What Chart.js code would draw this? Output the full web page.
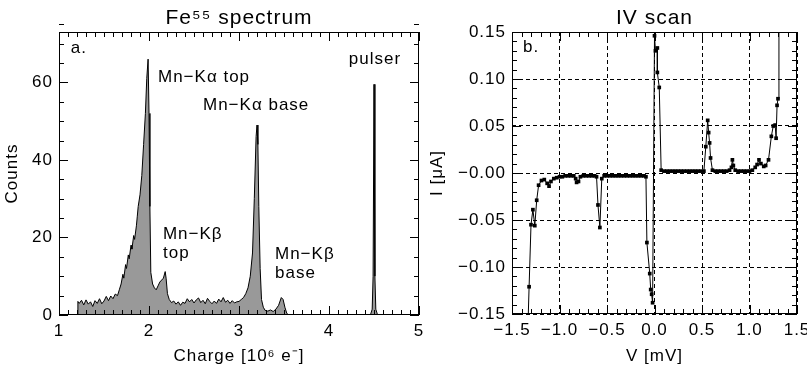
<!DOCTYPE html>
<html>
<head>
<meta charset="utf-8">
<script src="https://cdn.jsdelivr.net/npm/chart.js@4.4.1/dist/chart.umd.min.js"></script>
<style>
  html, body { margin: 0; padding: 0; background: #fff; }
  #wrap { position: relative; width: 807px; height: 370px; overflow: hidden; }
  #specBox { position: absolute; left: 0; top: 0; width: 425px; height: 370px; }
  #ivBox { position: absolute; left: 425px; top: 0; width: 382px; height: 370px; }
</style>
</head>
<body>
<div id="wrap">
  <div id="specBox"><canvas id="specChart" width="425" height="370"></canvas></div>
  <div id="ivBox"><canvas id="ivChart" width="382" height="370"></canvas></div>
</div>
<script>
// ---- panel a: Fe55 spectrum (charge in 10^6 e-, counts) ----
var specCharge = [
  1.00, 1.20, 1.21, 1.225, 1.25, 1.275, 1.30, 1.325, 1.35, 1.375, 1.40, 1.425, 1.45, 1.475,
  1.50, 1.525, 1.55, 1.575, 1.60, 1.625, 1.65, 1.67, 1.69, 1.71, 1.72, 1.74, 1.75, 1.77,
  1.78, 1.80, 1.81, 1.83, 1.84, 1.86, 1.87, 1.88, 1.90, 1.92, 1.94, 1.96, 1.975, 1.99,
  2.00, 2.01, 2.02, 2.04, 2.06, 2.08, 2.10, 2.12, 2.14, 2.16, 2.18, 2.19, 2.205, 2.225,
  2.25, 2.275, 2.30, 2.325, 2.35, 2.375, 2.40, 2.425, 2.45, 2.475, 2.50, 2.525, 2.55, 2.575,
  2.60, 2.625, 2.65, 2.675, 2.70, 2.725, 2.75, 2.775, 2.80, 2.825, 2.85, 2.875, 2.90, 2.925,
  2.95, 2.975, 3.00, 3.025, 3.05, 3.075, 3.10, 3.125, 3.15, 3.17, 3.19, 3.20, 3.21, 3.22,
  3.235, 3.25, 3.27, 3.29, 3.32, 3.35, 3.38, 3.41, 3.44, 3.47, 3.49, 3.51, 3.53, 3.55,
  4.46, 4.48, 4.49, 4.50, 4.51, 4.52, 4.54, 5.00
];
var specCounts = [
  0, 0, 3.5, 3.0, 3.8, 2.6, 3.9, 2.8, 3.4, 2.2, 3.7, 3.0, 4.2, 2.9,
  3.6, 4.8, 3.7, 4.9, 4.2, 5.4, 5.0, 6.5, 8.0, 10.5, 9.5, 13.0, 12.0, 15.5,
  14.5, 18.0, 17.0, 20.5, 19.5, 23.0, 25.5, 28.0, 31.0, 36.0, 44.0, 52.0, 61.0, 66.0,
  52.0, 28.0, 11.0, 8.0, 7.0, 6.5, 7.5, 8.5, 9.0, 9.5, 11.2, 9.5, 5.5, 4.0,
  3.2, 3.6, 2.8, 3.4, 2.5, 3.3, 3.0, 4.2, 3.4, 4.0, 3.1, 3.9, 4.4, 3.2,
  3.8, 2.9, 4.3, 3.5, 2.9, 3.6, 3.0, 4.1, 3.4, 4.5, 3.3, 3.8, 3.0, 3.7,
  3.1, 3.4, 3.5, 4.0, 4.5, 5.5, 7.0, 10.0, 16.0, 30.0, 46.0, 49.0, 44.0, 28.0,
  12.0, 4.0, 2.0, 1.2, 1.0, 1.3, 0.9, 1.5, 2.5, 4.5, 4.0, 2.0, 0.5, 0,
  0, 1.5, 10.0, 59.5, 10.0, 1.5, 0, 0
];
var specXTicks = [1, 2, 3, 4, 5];
var specXLabels = ['1', '2', '3', '4', '5'];
var specYTicks = [0, 20, 40, 60];
var specYLabels = ['0', '20', '40', '60'];
var specNoteText = ['a.', 'Mn\u2212K\u03b1 top', 'Mn\u2212K\u03b1 base', 'pulser', 'Mn\u2212K\u03b2', 'top', 'Mn\u2212K\u03b2', 'base'];
var specNoteX = [1.13, 2.10, 2.60, 4.22, 2.155, 2.155, 3.40, 3.40];
var specNoteY = [68.9, 61.2, 54.2, 66.0, 20.9, 16.0, 15.7, 10.8];

// ---- panel b: IV scan (V in mV, I in uA) ----
var ivV = [
  -1.34, -1.32, -1.30, -1.28, -1.26, -1.24, -1.22, -1.19, -1.16, -1.13, -1.11, -1.09, -1.06, -1.03,
  -1.00, -0.97, -0.94, -0.91, -0.88, -0.85, -0.83, -0.82, -0.80, -0.78, -0.75, -0.72, -0.69, -0.66,
  -0.63, -0.61, -0.595, -0.575, -0.555, -0.53, -0.50, -0.47, -0.44, -0.41, -0.38, -0.35, -0.32, -0.29,
  -0.26, -0.23, -0.20, -0.17, -0.14, -0.11, -0.09, -0.08, -0.05, -0.04, -0.03, -0.02,
  0.00, 0.01, 0.03, 0.03, 0.05, 0.07, 0.10, 0.13, 0.16, 0.19, 0.22, 0.25, 0.28, 0.31, 0.34,
  0.37, 0.40, 0.43, 0.46, 0.49, 0.52, 0.54, 0.56, 0.57, 0.58, 0.59, 0.61, 0.64, 0.67, 0.70,
  0.73, 0.76, 0.79, 0.81, 0.82, 0.83, 0.85, 0.88, 0.91, 0.94, 0.97, 1.00, 1.03, 1.06, 1.08,
  1.10, 1.12, 1.15, 1.17, 1.20, 1.23, 1.25, 1.27, 1.28, 1.29, 1.30, 1.31
];
var ivI = [
  -0.190, -0.121, -0.055, -0.039, -0.056, -0.029, -0.013, -0.008, -0.007, -0.011, -0.014, -0.009, -0.006, -0.005,
  -0.004, -0.004, -0.003, -0.003, -0.003, -0.003, -0.006, -0.010, -0.009, -0.004, -0.003, -0.003, -0.003, -0.003,
  -0.003, -0.004, -0.034, -0.058, -0.006, -0.003, -0.003, -0.003, -0.003, -0.003, -0.003, -0.003, -0.003, -0.003,
  -0.003, -0.003, -0.003, -0.003, -0.003, -0.003, -0.004, -0.074, -0.107, -0.124, -0.129, -0.138,
  0.146, 0.130, 0.133, 0.107, 0.091, 0.003, 0.002, 0.002, 0.002, 0.002, 0.002, 0.002, 0.002, 0.002, 0.002,
  0.002, 0.002, 0.002, 0.002, 0.002, 0.002, 0.028, 0.056, 0.043, 0.032, 0.016, 0.003, 0.002, 0.002, 0.002,
  0.002, 0.002, 0.003, 0.006, 0.014, 0.008, 0.003, 0.002, 0.002, 0.002, 0.002, 0.002, 0.003, 0.006, 0.009,
  0.014, 0.010, 0.007, 0.008, 0.014, 0.039, 0.050, 0.051, 0.037, 0.072, 0.079, 0.152
];
var ivXTicks = [-1.5, -1.0, -0.5, 0.0, 0.5, 1.0, 1.5];
var ivXLabels = ['\u22121.5', '\u22121.0', '\u22120.5', '0.0', '0.5', '1.0', '1.5'];
var ivYTicks = [-0.15, -0.10, -0.05, 0.00, 0.05, 0.10, 0.15];
var ivYLabels = ['\u22120.15', '\u22120.10', '\u22120.05', '\u22120.00', '0.05', '0.10', '0.15'];
var ivNoteText = ['b.'];
var ivNoteX = [-1.385];
var ivNoteY = [0.134];

var FONT = "'Liberation Sans', Arial, Helvetica, sans-serif";

// find label of a major tick, '' for minor ticks
function majorLabel(value, ticks, labels) {
  for (var i = 0; i < ticks.length; i++) {
    if (Math.abs(value - ticks[i]) < 1e-6) return labels[i];
  }
  return '';
}
function isMajor(value, ticks) {
  for (var i = 0; i < ticks.length; i++) {
    if (Math.abs(value - ticks[i]) < 1e-6) return true;
  }
  return false;
}

// IDL-style frame with inward ticks on all four sides, heading and notes
function makeFrame(cfg) {
  return {
    id: 'frame',
    beforeDraw: function (chart) {
      chart.ctx.letterSpacing = '1px';
    },
    afterDraw: function (chart) {
      var ctx = chart.ctx, a = chart.chartArea;
      var xs = chart.scales.x, ys = chart.scales.y;
      ctx.save();
      ctx.setLineDash([]);
      ctx.strokeStyle = '#000';
      ctx.lineWidth = 1;
      ctx.strokeRect(a.left + 0.5, a.top + 0.5, a.right - a.left - 1, a.bottom - a.top - 1);

      // minor and major tick marks pointing into the plot
      var nx = Math.round((xs.max - xs.min) / cfg.xStep);
      for (var k = 0; k <= nx; k++) {
        var v = xs.min + k * cfg.xStep;
        var px = Math.round(xs.getPixelForValue(v)) + 0.5;
        var len = isMajor(v, cfg.xMajor) ? 9 : 5;
        ctx.beginPath();
        ctx.moveTo(px, a.bottom); ctx.lineTo(px, a.bottom - len);
        ctx.moveTo(px, a.top); ctx.lineTo(px, a.top + len);
        ctx.stroke();
      }
      var ny = Math.round((ys.max - ys.min) / cfg.yStep);
      for (var j = 0; j <= ny; j++) {
        var w = ys.min + j * cfg.yStep;
        var py = Math.round(ys.getPixelForValue(w)) + 0.5;
        var len2 = isMajor(w, cfg.yMajor) ? 9 : 5;
        ctx.beginPath();
        ctx.moveTo(a.left, py); ctx.lineTo(a.left + len2, py);
        ctx.moveTo(a.right, py); ctx.lineTo(a.right - len2, py);
        ctx.stroke();
      }

      // notes placed in data coordinates
      ctx.fillStyle = '#000';
      ctx.font = '17px ' + FONT;
      ctx.textAlign = 'left';
      ctx.textBaseline = 'middle';
      for (var i = 0; i < cfg.noteText.length; i++) {
        ctx.fillText(cfg.noteText[i], xs.getPixelForValue(cfg.noteX[i]), ys.getPixelForValue(cfg.noteY[i]));
      }

      // heading over the plot
      ctx.font = '21px ' + FONT;
      ctx.textAlign = 'center';
      ctx.textBaseline = 'alphabetic';
      ctx.fillText(cfg.heading, (a.left + a.right) / 2, 24);
      ctx.restore();
    }
  };
}

function fixWidth(w) {
  return function (scale) { scale.width = w; scale.paddingTop = 0; scale.paddingBottom = 0; };
}
function fixHeight(h) {
  return function (scale) { scale.height = h; scale.paddingLeft = 0; scale.paddingRight = 0; };
}

// Spectrum chart
new Chart(document.getElementById('specChart').getContext('2d'), {
  type: 'line',
  data: {
    datasets: [{
      data: specCharge.map(function (c, i) { return { x: c, y: specCounts[i] }; }),
      borderColor: '#000',
      borderWidth: 1,
      backgroundColor: '#999999',
      fill: 'origin',
      pointRadius: 0,
      tension: 0
    }]
  },
  options: {
    responsive: false,
    animation: false,
    layout: { padding: { top: 32, right: 6, left: 0, bottom: 0 } },
    plugins: { legend: { display: false }, tooltip: { enabled: false } },
    scales: {
      x: {
        type: 'linear', min: 1, max: 5,
        afterFit: fixHeight(55),
        border: { display: false },
        grid: { display: false, drawTicks: false },
        ticks: {
          stepSize: 0.1, autoSkip: false, maxRotation: 0, padding: 6, color: '#000',
          font: { size: 17, family: FONT },
          callback: function (v) { return majorLabel(v, specXTicks, specXLabels); }
        },
        title: { display: true, text: 'Charge [10\u2076 e\u207b]', color: '#000',
                 font: { size: 17, family: FONT }, padding: { top: 0, bottom: 3 } }
      },
      y: {
        type: 'linear', min: 0, max: 73,
        afterFit: fixWidth(59),
        border: { display: false },
        grid: { display: false, drawTicks: false },
        ticks: {
          stepSize: 5, autoSkip: false, padding: 6, color: '#000',
          font: { size: 17, family: FONT },
          callback: function (v) { return majorLabel(v, specYTicks, specYLabels); }
        },
        title: { display: true, text: 'Counts', color: '#000',
                 font: { size: 17, family: FONT }, padding: { top: 2, bottom: 0 } }
      }
    }
  },
  plugins: [makeFrame({
    xMajor: specXTicks, yMajor: specYTicks, xStep: 0.1, yStep: 5,
    heading: 'Fe\u2075\u2075 spectrum',
    noteText: specNoteText, noteX: specNoteX, noteY: specNoteY
  })]
});

// IV scan chart
new Chart(document.getElementById('ivChart').getContext('2d'), {
  type: 'line',
  data: {
    datasets: [{
      data: ivV.map(function (v, i) { return { x: v, y: ivI[i] }; }),
      borderColor: '#000',
      borderWidth: 1,
      backgroundColor: '#000',
      pointStyle: 'rect',
      pointRadius: 2.6,
      pointBorderWidth: 0,
      fill: false,
      tension: 0
    }]
  },
  options: {
    responsive: false,
    animation: false,
    layout: { padding: { top: 32, right: 10, left: 0, bottom: 0 } },
    plugins: { legend: { display: false }, tooltip: { enabled: false } },
    scales: {
      x: {
        type: 'linear', min: -1.5, max: 1.5,
        afterFit: fixHeight(56),
        border: { display: false, dash: [4, 3] },
        grid: {
          drawTicks: false,
          color: function (c) { return isMajor(c.tick.value, ivXTicks) ? '#000' : 'rgba(0,0,0,0)'; }
        },
        ticks: {
          stepSize: 0.1, autoSkip: false, maxRotation: 0, padding: 6, color: '#000',
          font: { size: 17, family: FONT },
          callback: function (v) { return majorLabel(v, ivXTicks, ivXLabels); }
        },
        title: { display: true, text: 'V [mV]', color: '#000',
                 font: { size: 17, family: FONT }, padding: { top: 0, bottom: 3 } }
      },
      y: {
        type: 'linear', min: -0.15, max: 0.15,
        afterFit: fixWidth(87),
        border: { display: false, dash: [4, 3] },
        grid: {
          drawTicks: false,
          color: function (c) { return isMajor(c.tick.value, ivYTicks) ? '#000' : 'rgba(0,0,0,0)'; }
        },
        ticks: {
          stepSize: 0.01, autoSkip: false, padding: 6, color: '#000',
          font: { size: 17, family: FONT },
          callback: function (v) { return majorLabel(v, ivYTicks, ivYLabels); }
        },
        title: { display: true, text: 'I [\u03bcA]', color: '#000',
                 font: { size: 17, family: FONT }, padding: { top: 2, bottom: 0 } }
      }
    }
  },
  plugins: [makeFrame({
    xMajor: ivXTicks, yMajor: ivYTicks, xStep: 0.1, yStep: 0.01,
    heading: 'IV scan',
    noteText: ivNoteText, noteX: ivNoteX, noteY: ivNoteY
  })]
});
</script>
</body>
</html>
